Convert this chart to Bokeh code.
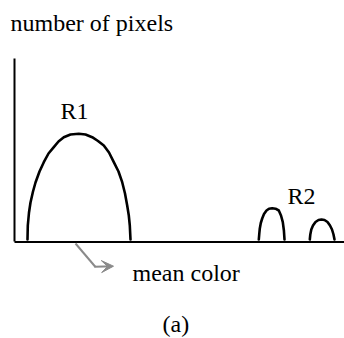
from bokeh.plotting import figure
from bokeh.models import Range1d, Label, Arrow, VeeHead
from bokeh.embed import file_html
from bokeh.resources import INLINE

# Histogram sketch: pixel count vs. colour value for two regions
r1_color = [13, 13.3, 14.5, 16, 18.5, 21, 25, 29.3, 34, 39.3, 44, 49.3, 56, 64.3, 71, 77.7, 83.5, 89.3, 94.5, 99.3, 104, 107.7, 110.5, 112.7, 114.3, 115.3, 116]
r1_count = [2, 16, 29, 39, 50, 59, 70, 79.3, 88, 94.3, 100, 104.3, 107, 107.7, 107, 104.3, 100.5, 96, 89, 79.3, 70, 59.3, 48, 36, 26, 16, 2]

r2a_color = [244.3, 244.8, 245.3, 246.3, 247.7, 249.5, 252, 254.5, 257.7, 261, 264.3, 266.5, 268.3, 269.4, 270]
r2a_count = [2, 8, 13, 18.5, 23, 27.5, 31, 32.8, 33.3, 32.8, 31, 26, 19.3, 11, 2]

r2b_color = [295.3, 295.8, 296.8, 298.5, 301, 304, 307, 310, 313, 315.5, 317.5, 319, 320]
r2b_count = [2, 7, 12, 16, 19.5, 21.5, 22, 21.5, 19.5, 16, 12, 7, 2]

labels = ["R1", "R2"]
axis_title = "number of pixels"
x_title = "mean color"
caption = "(a)"

FONT = "Liberation Serif"

p = figure(width=344, height=338, output_backend="svg", toolbar_location=None,
           x_range=Range1d(-14, 330), y_range=Range1d(-97, 241),
           min_border=0, background_fill_color="white", border_fill_color="white")
p.axis.visible = False
p.grid.visible = False
p.outline_line_color = None

# axes drawn from the origin
p.segment(x0=[0, 0], y0=[0, -0.5], x1=[0, 330], y1=[183, -0.5],
          line_color="black", line_width=2)

# distribution outlines
for xs, ys in ((r1_color, r1_count), (r2a_color, r2a_count), (r2b_color, r2b_count)):
    p.line(xs, ys, line_color="black", line_width=2.6, line_join="round", line_cap="round")

# arrow pointing from the axis to the "mean color" caption
p.line([61, 81], [-2, -25.5], line_color="#8a8a8a", line_width=2)
p.add_layout(Arrow(x_start=80, y_start=-25.3, x_end=99, y_end=-24.7,
                   line_color="#8a8a8a", line_width=2,
                   end=VeeHead(size=12, fill_color="#8a8a8a", line_color="#8a8a8a")))

def add_text(txt, x, y):
    p.add_layout(Label(x=x, y=y, text=txt, text_font=FONT, text_font_size="24px",
                       text_color="black", text_baseline="alphabetic", text_align="left"))

add_text(axis_title, -4, 219)
add_text(labels[0], 46, 131)
add_text(labels[1], 273, 46)
add_text(x_title, 118, -31)
add_text(caption, 148, -82)

open("out.html", "w").write(file_html(p, INLINE))
